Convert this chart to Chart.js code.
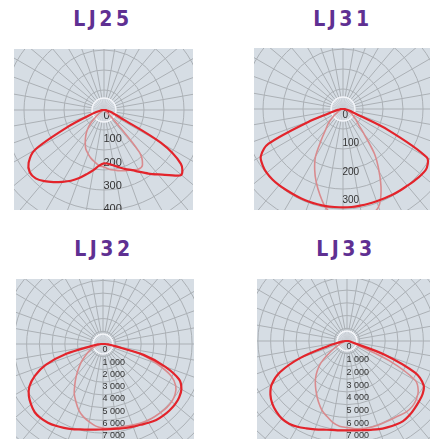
<!DOCTYPE html>
<html>
<head>
<meta charset="utf-8">
<script src="https://cdn.jsdelivr.net/npm/chart.js@4"></script>
<style>
  body { margin: 0; background: #fff; width: 430px; height: 439px; position: relative; overflow: hidden; }
  .title { position: absolute; width: 116px; text-align: center; font: bold 21px "Liberation Sans Narrow", "DejaVu Sans Condensed", Roboto, sans-serif; letter-spacing: 3.5px; color: #5f3092; line-height: 24px; }
  .box { position: absolute; overflow: hidden; background: #d6dde4; }
  .box canvas { position: absolute; }
</style>
</head>
<body>
<div class="title" style="left:45px;top:7px">LJ25</div>
<div class="title" style="left:285px;top:7px">LJ31</div>
<div class="title" style="left:46px;top:237px">LJ32</div>
<div class="title" style="left:288px;top:237px">LJ33</div>

<div class="box" style="left:14px;top:49px;width:179px;height:161px"><canvas id="lj25" width="280" height="280" style="left:-50px;top:-79px"></canvas></div>
<div class="box" style="left:254px;top:48px;width:176px;height:162px"><canvas id="lj31" width="280" height="280" style="left:-51px;top:-79px"></canvas></div>
<div class="box" style="left:16px;top:279px;width:178px;height:160px"><canvas id="lj32" width="280" height="280" style="left:-53px;top:-75px"></canvas></div>
<div class="box" style="left:257px;top:279px;width:173px;height:160px"><canvas id="lj33" width="280" height="280" style="left:-50px;top:-78px"></canvas></div>

<script>
// gamma angles (0 = straight down), one value per angle for each half plane
const gammaDeg = [0, 5, 10, 15, 20, 25, 30, 35, 40, 45, 50, 55, 60, 65, 70, 75, 80, 85, 90];

// LJ25 (cd/klm)
const lj25RedLeft = [229, 240, 262, 285, 311, 335, 356, 378, 399, 415, 416, 395, 343, 172, 69, 34, 17, 9, 4];
const lj25RedRight = [229, 232, 242, 255, 270, 285, 307, 333, 361, 395, 433, 403, 283, 77, 43, 26, 13, 9, 4];
const lj25PinkLeft = [245, 240, 227, 215, 200, 185, 161, 137, 112, 82, 47, 26, 13, 6, 3, 3, 3, 3, 3];
const lj25PinkRight = [249, 255, 262, 270, 277, 283, 294, 288, 236, 60, 17, 9, 4, 2, 2, 2, 2, 2, 2];

// LJ31
const lj31RedLeft = [345, 345, 346, 346, 346, 346, 346, 347, 349, 350, 349, 344, 333, 288, 123, 35, 18, 10, 7];
const lj31RedRight = [345, 345, 344, 344, 344, 345, 347, 349, 351, 355, 359, 359, 339, 175, 42, 25, 14, 7, 4];
const lj31PinkLeft = [379, 375, 351, 312, 274, 235, 193, 133, 95, 74, 53, 35, 21, 14, 11, 7, 7, 7, 7];
const lj31PinkRight = [386, 386, 386, 382, 365, 316, 253, 193, 116, 77, 60, 46, 37, 28, 18, 11, 7, 7, 7];

// LJ32
const lj32RedLeft = [6970, 7020, 7100, 7220, 7390, 7550, 7710, 7840, 7910, 7880, 7670, 7390, 6940, 6120, 4980, 3100, 980, 410, 160];
const lj32RedRight = [6970, 6980, 7020, 7100, 7180, 7270, 7430, 7580, 7640, 7670, 7670, 7590, 7390, 6860, 5390, 3430, 980, 410, 160];
const lj32PinkLeft = [6860, 6730, 6450, 6160, 5760, 5220, 4690, 4000, 3390, 2820, 2330, 1840, 1470, 1140, 820, 570, 330, 160, 80];
const lj32PinkRight = [6900, 6900, 6920, 6960, 7040, 7140, 7220, 7270, 7310, 7350, 7320, 7180, 6860, 6120, 4650, 3100, 980, 410, 160];

// LJ33
const lj33RedLeft = [7030, 7060, 7100, 7230, 7400, 7590, 7800, 7950, 7980, 7870, 7680, 7360, 6850, 5830, 3940, 1570, 630, 310, 160];
const lj33RedRight = [7030, 7070, 7130, 7240, 7390, 7500, 7620, 7700, 7640, 7520, 7400, 7270, 6970, 5910, 3150, 470, 310, 160, 80];
const lj33PinkLeft = [6810, 6730, 6500, 6140, 5790, 5310, 4800, 4330, 3860, 3310, 2680, 1810, 1180, 710, 470, 310, 160, 80, 80];
const lj33PinkRight = [6890, 6930, 7010, 7050, 7060, 7060, 7090, 7170, 7280, 7280, 7130, 6850, 6220, 3700, 790, 390, 240, 160, 80];

// scale labels
const lj25TickValues = [0, 100, 200, 300, 400];
const lj25TickTexts = ["0", "100", "200", "300", "400"];
const lj31TickValues = [0, 100, 200, 300];
const lj31TickTexts = ["0", "100", "200", "300"];
const lj3xTickValues = [0, 1000, 2000, 3000, 4000, 5000, 6000, 7000];
const lj3xTickTexts = ["0", "1 000", "2 000", "3 000", "4 000", "5 000", "6 000", "7 000"];

const STEP = gammaDeg[1];
const COUNT = 360 / STEP;
const angleLabels = [];
for (let k = 0; k < COUNT; k++) angleLabels.push(k * STEP);

// radar index k sits k*5 deg clockwise from nadir: left half first, then upper half, then right half
function fullTurn(left, right) {
  const out = [];
  for (let k = 0; k < COUNT; k++) {
    if (k < left.length) out.push(left[k]);
    else if (COUNT - k < right.length) out.push(right[COUNT - k]);
    else out.push(0);
  }
  return out;
}

const radialLabels = {
  id: "radialLabels",
  beforeDatasetsDraw(chart, args, opts) {
    const r = chart.scales.r;
    const ctx = chart.ctx;
    ctx.save();
    // light hub ring round the centre
    ctx.beginPath();
    ctx.arc(r.xCenter, r.yCenter, opts.hub, 0, Math.PI * 2);
    ctx.fillStyle = "rgba(226,232,238,0.55)";
    ctx.fill();
    ctx.strokeStyle = "rgba(250,252,255,0.85)";
    ctx.lineWidth = 1.5;
    ctx.stroke();

    ctx.font = opts.size + 'px "Liberation Sans", Arial, sans-serif';
    ctx.fillStyle = "#333";
    ctx.textAlign = "left";
    ctx.textBaseline = "middle";
    opts.values.forEach((v, i) => {
      const d = r.getDistanceFromCenterForValue(v);
      ctx.fillText(opts.texts[i], r.xCenter - 0.5, r.yCenter + d + 6);
    });
    ctx.restore();
  }
};

function makeChart(id, red, pink, max, step, tickValues, tickTexts, fontSize, hub) {
  const ctx = document.getElementById(id).getContext("2d");
  return new Chart(ctx, {
    type: "radar",
    data: {
      labels: angleLabels,
      datasets: [
        {
          label: "C0-C180",
          data: red,
          borderColor: "#e3242b",
          borderWidth: 2.2,
          pointRadius: 0,
          fill: false,
          tension: 0.3,
        },
        {
          label: "C90-C270",
          data: pink,
          borderColor: "#d98b8e",
          borderWidth: 1.6,
          pointRadius: 0,
          fill: false,
          tension: 0.3,
        },
      ],
    },
    options: {
      responsive: false,
      animation: false,
      events: [],
      layout: { padding: 0 },
      plugins: {
        legend: { display: false },
        tooltip: { enabled: false },
        radialLabels: { values: tickValues, texts: tickTexts, size: fontSize, hub: hub },
      },
      scales: {
        r: {
          min: 0,
          max: max,
          startAngle: 180,
          ticks: { display: false, stepSize: step },
          pointLabels: { display: false },
          grid: { circular: true, color: "#abb0b5", lineWidth: 1 },
          angleLines: {
            color: "#abb0b5",
            lineWidth: (c) => (c.index % 2 === 0 ? 1 : 0),
          },
        },
      },
    },
    plugins: [radialLabels],
  });
}

makeChart("lj25", fullTurn(lj25RedLeft, lj25RedRight), fullTurn(lj25PinkLeft, lj25PinkRight), 601, 86, lj25TickValues, lj25TickTexts, 11, 12);
makeChart("lj31", fullTurn(lj31RedLeft, lj31RedRight), fullTurn(lj31PinkLeft, lj31PinkRight), 491, 70, lj31TickValues, lj31TickTexts, 10, 12);
makeChart("lj32", fullTurn(lj32RedLeft, lj32RedRight), fullTurn(lj32PinkLeft, lj32PinkRight), 11429, 1000, lj3xTickValues, lj3xTickTexts, 9, 10);
makeChart("lj33", fullTurn(lj33RedLeft, lj33RedRight), fullTurn(lj33PinkLeft, lj33PinkRight), 11024, 1000, lj3xTickValues, lj3xTickTexts, 9, 10);
</script>
</body>
</html>
